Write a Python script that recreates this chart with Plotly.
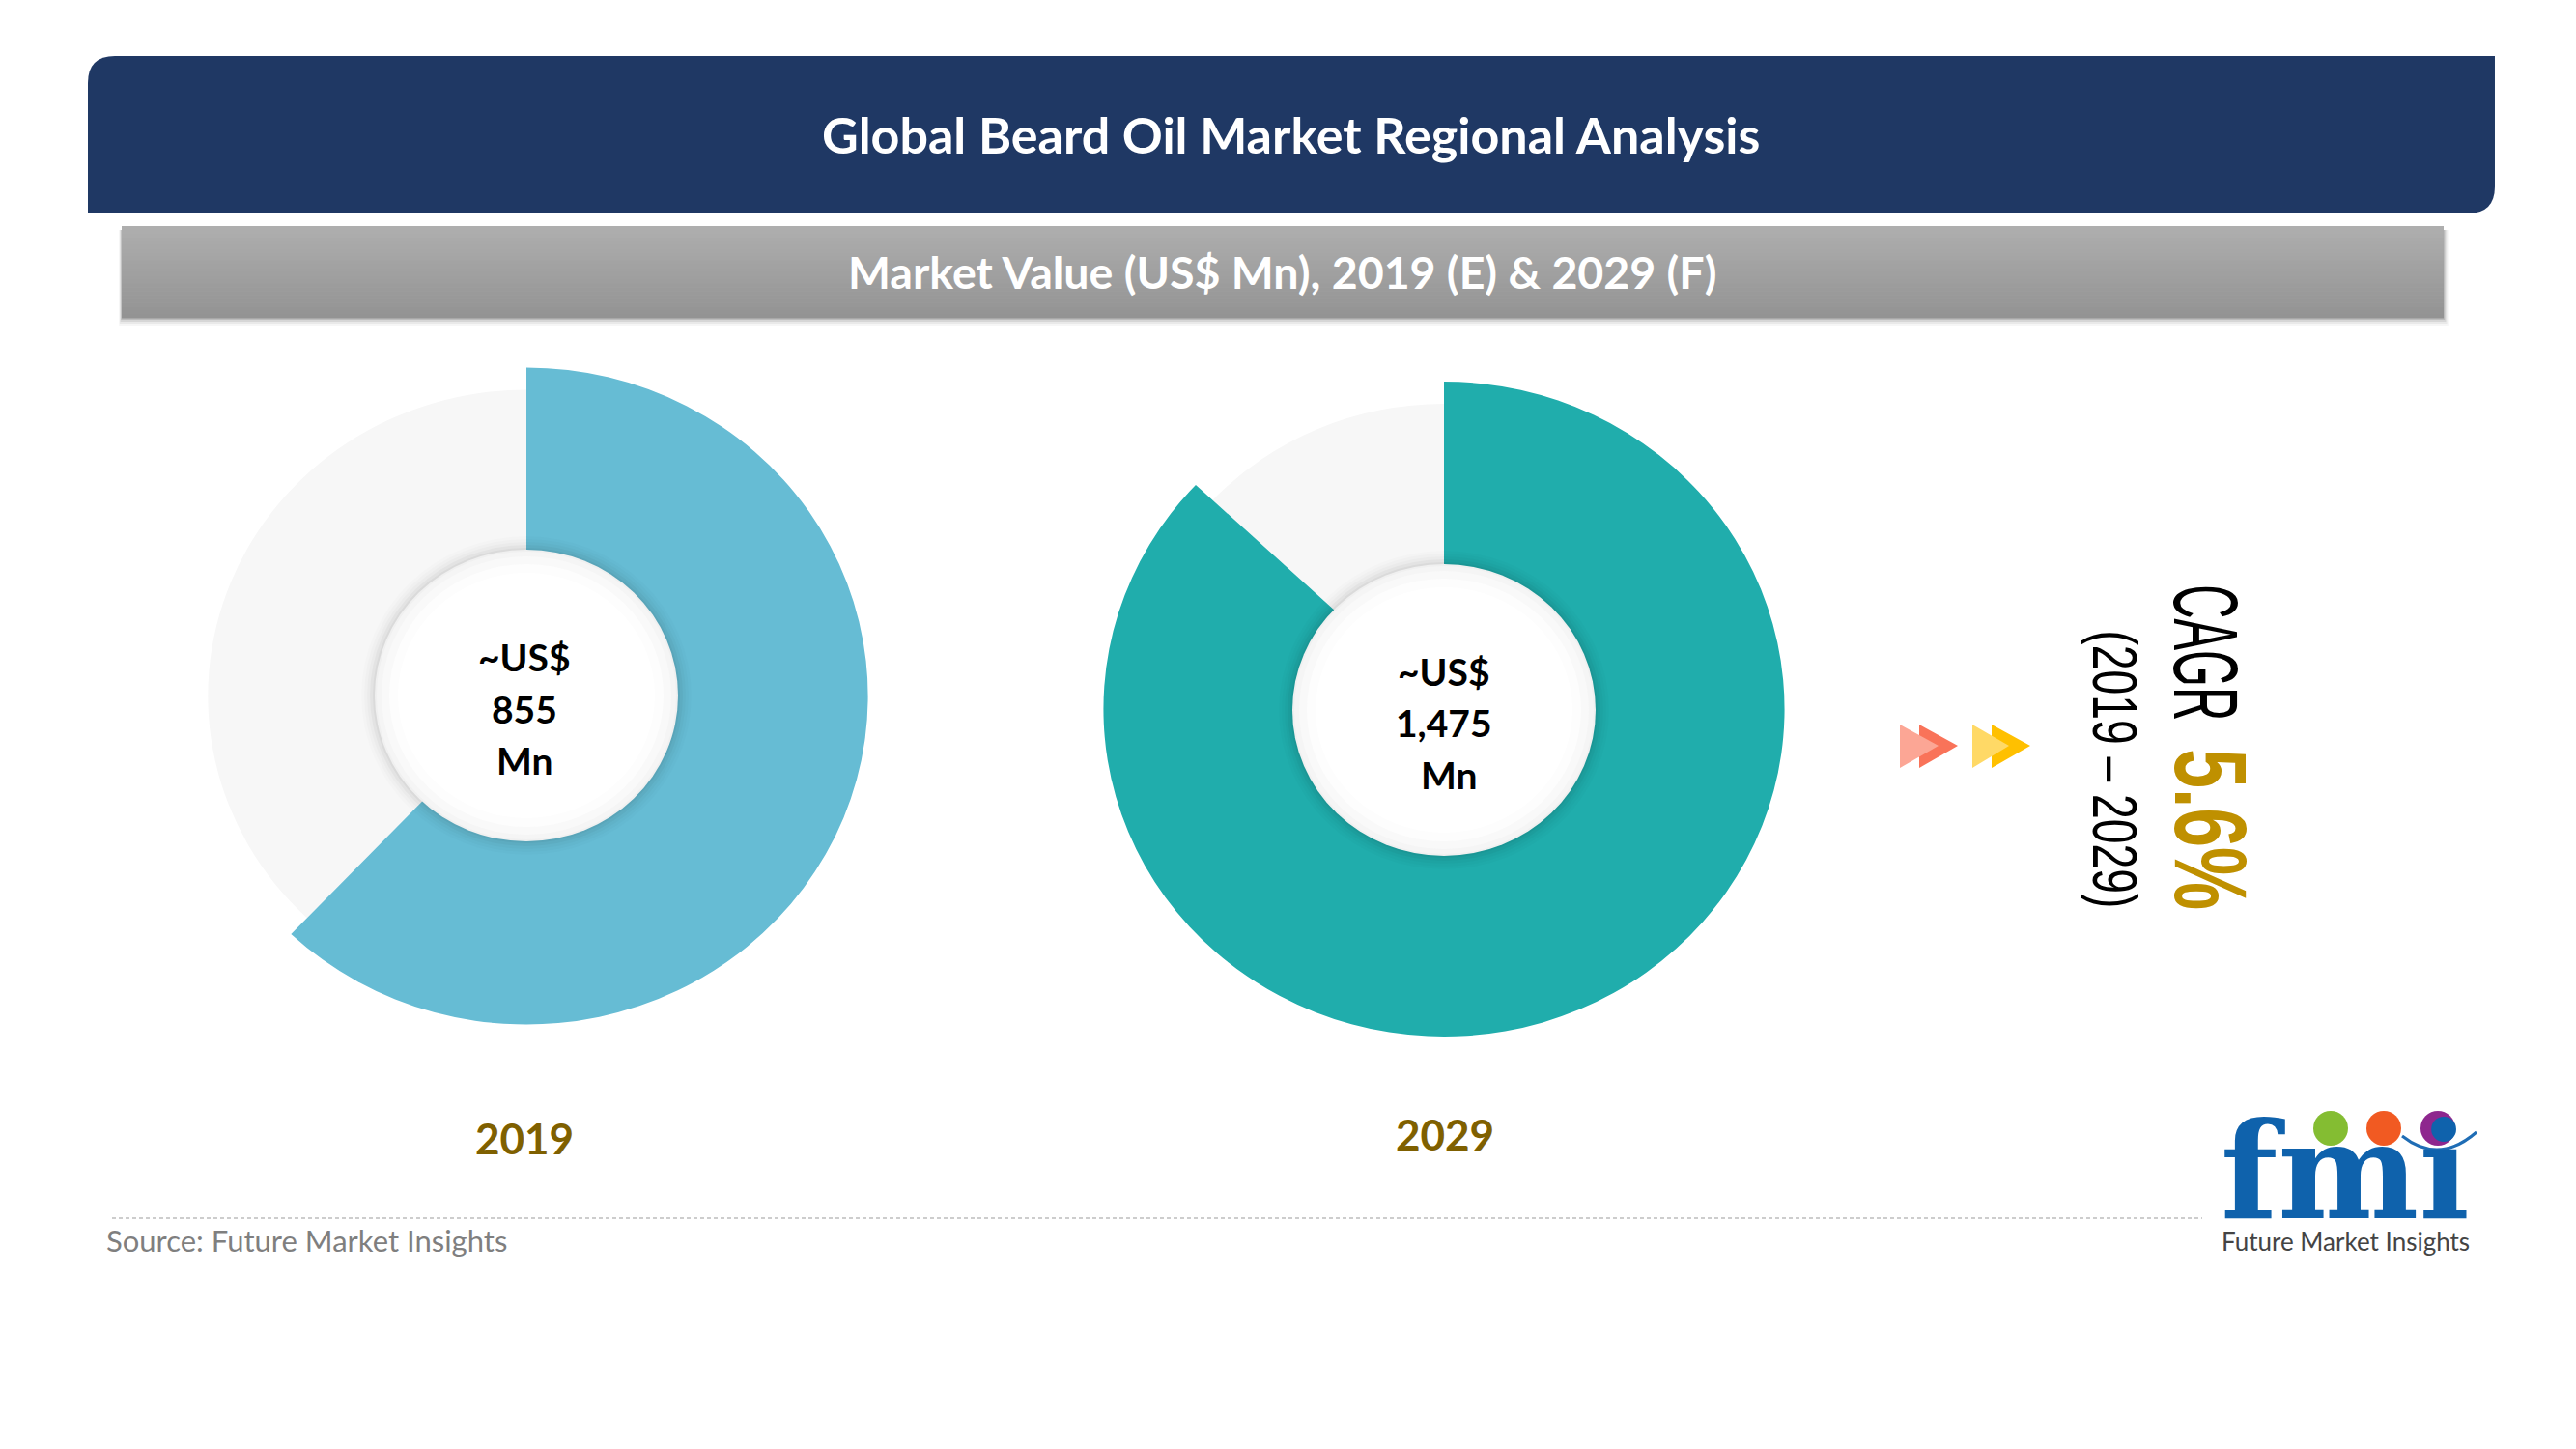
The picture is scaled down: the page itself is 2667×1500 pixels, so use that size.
import json
import plotly.graph_objects as go

W, H = 2667, 1500

# ---- data ----
years = ["2019", "2029"]
slice_labels = ["Market value", "Remainder"]
shares_2019 = [62.1, 37.9]
shares_2029 = [87.0, 13.0]
value_lines_2019 = ["~US$", "855", "Mn"]
value_lines_2029 = ["~US$", "1,475", "Mn"]
title_text = "Global Beard Oil Market Regional Analysis"
subtitle_text = "Market Value (US$ Mn), 2019 (E) & 2029 (F)"
source_text = "Source: Future Market Insights"
cagr_label = "CAGR"
cagr_value = "5.6%"
cagr_period = "(2019 – 2029)"

NAVY = "#1f3864"
BLUE = "#66bcd4"
TEAL = "#20adac"
LIGHT = "#f7f7f7"
BROWN = "#7f6000"
GOLD = "#bf9000"
FONT = "Lato"
NARROW = "Liberation Sans"

def px(x): return x / W
def py(y): return 1 - y / H
def pt(x, y): return f"{px(x):.5f},{py(y):.5f}"
def path(*parts): return " ".join(parts)

shapes = []
annotations = []

def rect(x0, y0, x1, y1, color, opacity=1.0):
    shapes.append(dict(type="rect", xref="paper", yref="paper", x0=px(x0), x1=px(x1),
                       y0=py(y1), y1=py(y0), fillcolor=color, opacity=opacity,
                       line=dict(width=0), layer="above"))

def ellipse(cx, cy, rx, ry, color, opacity=1.0):
    shapes.append(dict(type="circle", xref="paper", yref="paper", x0=px(cx - rx), x1=px(cx + rx),
                       y0=py(cy + ry), y1=py(cy - ry), fillcolor=color, opacity=opacity,
                       line=dict(width=0), layer="above"))

def poly(d, color, opacity=1.0):
    shapes.append(dict(type="path", xref="paper", yref="paper", path=d, fillcolor=color,
                       opacity=opacity, line=dict(width=0), layer="above"))

def text(x, y, s, size, color="#000000", bold=False, family=FONT, angle=0, anchor="center"):
    annotations.append(dict(xref="paper", yref="paper", x=px(x), y=py(y), text=f"<b>{s}</b>" if bold else s,
                            showarrow=False, xanchor=anchor, yanchor="middle", textangle=angle,
                            font=dict(family=family, size=size, color=color)))

# header band: top-left and bottom-right corners rounded
poly(path("M", pt(91, 221), "L", pt(91, 86), "Q", pt(91, 58), pt(119, 58), "L", pt(2583, 58),
          "L", pt(2583, 193), "Q", pt(2583, 221), pt(2555, 221), "Z"), NAVY)
text(1336, 139, title_text, 52, "#ffffff", True)

# sub-header band with gradient + soft shadow
for i, o in enumerate([0.05, 0.08, 0.12, 0.2]):
    g = 8 - 2 * i
    rect(126 - g * 0.35, 238, 2530 + g * 0.6, 329 + g, "#555555", o)
n = 24
for i in range(n):
    t = i / (n - 1)
    c = int(round(0xae + (0x93 - 0xae) * t))
    rect(126, 234 + i * 95 / n, 2530, 234 + (i + 1) * 95 / n + 0.5, f"rgb({c},{c},{c})")
text(1327, 281, subtitle_text, 46.5, "#ffffff", True)

# doughnuts
def pie(values, colors, cx, cy, r):
    return go.Pie(values=values, labels=slice_labels, sort=False, direction="clockwise", rotation=0,
                  hole=0.4, textinfo="none", hoverinfo="label+value", showlegend=False,
                  marker=dict(colors=colors, line=dict(width=0)),
                  domain=dict(x=[px(cx - r), px(cx + r)], y=[py(cy + r), py(cy - r)]))

CLEAR = "rgba(0,0,0,0)"
CX1, CY1, CX2, CY2 = 545, 720.5, 1495, 734
traces = [
    pie(shares_2019, [CLEAR, LIGHT], CX1, CY1, 317),
    pie(shares_2019, [BLUE, CLEAR], CX1, CY1, 340),
    pie(shares_2029, [CLEAR, LIGHT], CX2, CY2, 316),
    pie(shares_2029, [TEAL, CLEAR], CX2, CY2, 339),
]

def centre(cx, cy, rx, ry):
    for k, o in [(14, 0.012), (11, 0.016), (8, 0.02), (5, 0.03), (2, 0.04)]:
        ellipse(cx, cy, rx + k, ry + k, "#000000", o)
    for k, c in [(0, "#f0f0f0"), (-2, "#f5f5f5"), (-7, "#f9f9f9"), (-15, "#fdfdfd"), (-24, "#ffffff")]:
        ellipse(cx, cy, rx + k, ry + k, c)

centre(545, 720, 157, 151)
centre(1495, 735, 157, 151)

for s, y in zip(value_lines_2019, [680, 734, 787]):
    text(543, y, s, 39, "#000000", True)
for s, y, x in zip(value_lines_2029, [695, 748, 802], [1495, 1495, 1500]):
    text(x, y, s, 39, "#000000", True)

text(543, 1178, years[0], 44, BROWN, True)
text(1496, 1174, years[1], 44, BROWN, True)

# double arrows
def tri(x0, x1, color):
    poly(path("M", pt(x0, 750), "L", pt(x1, 772), "L", pt(x0, 795), "Z"), color)

tri(1987, 2027, "#f97359")
tri(1967, 2007, "#fca695")
tri(2062, 2102, "#ffc000")
tri(2042, 2080, "#ffd966")

# rotated CAGR block (condensed with textLength below)
text(2284, 676, cagr_label, 94, "#000000", False, NARROW, 90)
text(2288, 858, cagr_value, 105, GOLD, True, NARROW, 90)
text(2189, 796, cagr_period, 65, "#000000", False, NARROW, 90)
condensed = {cagr_label: 141, cagr_value: 167, cagr_period: 288}

# footer rule + source
shapes.append(dict(type="line", xref="paper", yref="paper", x0=px(116), x1=px(2280), y0=py(1261), y1=py(1261),
                   line=dict(color="#bdbdbd", width=1.5, dash="4px,3px"), layer="above"))
text(108, 1284, source_text, 31, "#7f7f7f", False, FONT, 0, "left")

# logo
LOGO = "#0f62ac"
text(2428, 1212, "fmi", 138, LOGO, True, "DejaVu Serif")
for y in [1183, 1212, 1223, 1232, 1240, 1250, 1260]:
    rect(2298, y - 0.9, 2558, y + 0.9, "#ffffff", 0.85)
ellipse(2413, 1168, 18, 18, "#84bd32")
ellipse(2468, 1168, 18, 18, "#f15a22")
ellipse(2524, 1168, 18, 18, "#8e278e")
shapes.append(dict(type="path", xref="paper", yref="paper",
                   path=path("M", pt(2487, 1176), "Q", pt(2525, 1206), pt(2564, 1172)),
                   line=dict(color="#1f6db5", width=3), layer="above"))
text(2428, 1285, "Future Market Insights", 26, "#444444", False, FONT)

fig = go.Figure(data=traces)
fig.update_layout(width=W, height=H, margin=dict(l=0, r=0, t=0, b=0), paper_bgcolor="#ffffff",
                  plot_bgcolor="#ffffff", shapes=shapes, annotations=annotations, showlegend=False)

# The reference slide is stretched about 4 % sideways and its CAGR text is set in a condensed face.
post = """
document.body.style.margin='0';document.body.style.overflow='hidden';
var lens = %s, cxs = %s, sx = 1.04;
document.querySelectorAll('.pielayer .trace').forEach(function(g,i){
  var c = cxs[i];
  g.setAttribute('transform','translate('+c+' 0) scale('+sx+' 1) translate('+(-c)+' 0)');
});
document.querySelectorAll('.annotation-text').forEach(function(t){
  var n = lens[t.textContent];
  if(n){t.setAttribute('textLength',n);t.setAttribute('lengthAdjust','spacingAndGlyphs');}
});
""" % (json.dumps(condensed, ensure_ascii=False), json.dumps([CX1, CX1, CX2, CX2]))
fig.write_html("out.html", config=dict(displayModeBar=False), post_script=post)
